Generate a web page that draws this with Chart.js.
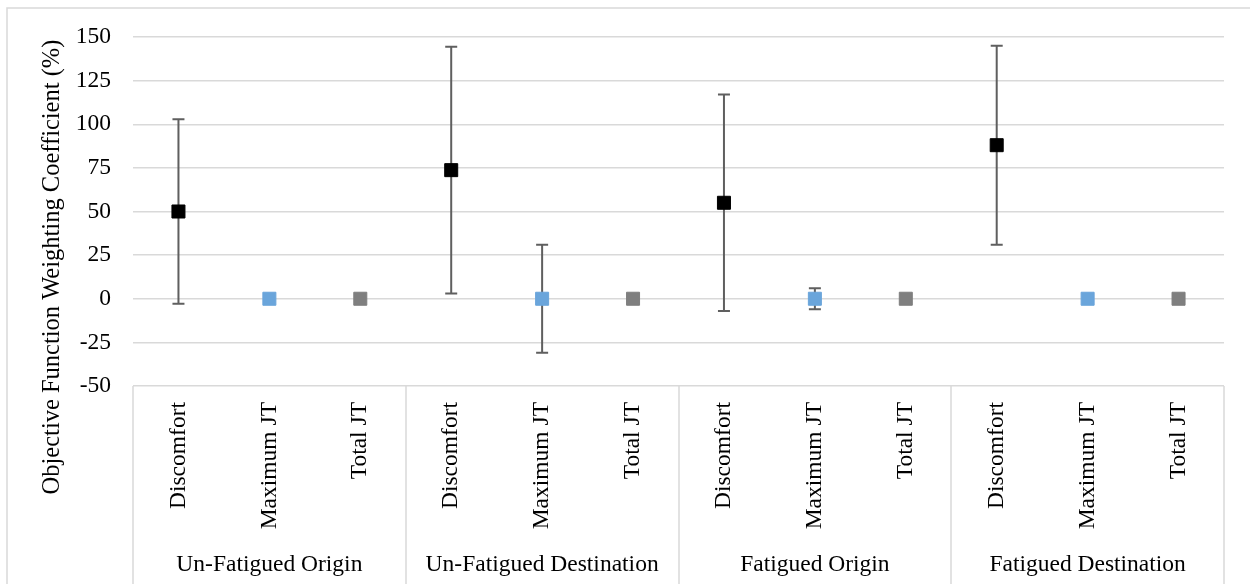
<!DOCTYPE html>
<html>
<head>
<meta charset="utf-8">
<script src="https://cdn.jsdelivr.net/npm/chart.js@4"></script>
<style>
html,body{margin:0;padding:0;background:#fff;}
#wrap{width:1250px;height:584px;position:relative;}
</style>
</head>
<body>
<div id="wrap"><canvas id="c" width="1250" height="584"></canvas></div>
<script>
// data
const groups = ["Un-Fatigued Origin","Un-Fatigued Destination","Fatigued Origin","Fatigued Destination"];
const measures = ["Discomfort","Maximum JT","Total JT"];

const discomfortMean = [50, 73.7, 55, 88];
const discomfortErr  = [52.8, 70.7, 62, 57];
const maxJtMean  = [0, 0, 0, 0];
const maxJtErr   = [0, 31, 6, 0];
const totalJtMean = [0, 0, 0, 0];
const totalJtErr  = [0, 0, 0, 0];

const yMin = -50, yMax = 150, yStep = 25;
const yTitle = "Objective Function Weighting Coefficient (%)";

const FONT = "'Liberation Serif','Times New Roman',serif";
Chart.defaults.font.family = FONT;
Chart.defaults.color = "#000";

// 12 category slots, 3 per group
const labels = groups.flatMap(() => measures);

function place(vals, slot){
    let out = labels.map(() => null);
    vals.forEach((v,g) => { out[g*3+slot] = v; });
    return out;
}

const series = [
    {name:"Discomfort", mean:discomfortMean, err:discomfortErr, color:"#000000", slot:0},
    {name:"Maximum JT", mean:maxJtMean, err:maxJtErr, color:"#6aa5db", slot:1},
    {name:"Total JT", mean:totalJtMean, err:totalJtErr, color:"#7f7f7f", slot:2}
];

const errorBars = {
    id:"errorBars",
    beforeDatasetsDraw(chart){
        const ctx = chart.ctx, y = chart.scales.y;
        ctx.save();
        ctx.strokeStyle = "#5f5f5f";
        ctx.lineWidth = 2;
        series.forEach((s,di) => {
            const meta = chart.getDatasetMeta(di);
            s.mean.forEach((m,g) => {
                const e = s.err[g];
                if(!e) return;
                const pt = meta.data[g*3+s.slot];
                const x = pt.x;
                const top = y.getPixelForValue(m+e), bot = y.getPixelForValue(m-e);
                ctx.beginPath();
                ctx.moveTo(x,top); ctx.lineTo(x,bot);
                ctx.moveTo(x-6,top); ctx.lineTo(x+6,top);
                ctx.moveTo(x-6,bot); ctx.lineTo(x+6,bot);
                ctx.stroke();
            });
        });
        ctx.restore();
    }
};

const decorations = {
    id:"decorations",
    afterDraw(chart){
        const ctx = chart.ctx, a = chart.chartArea, x = chart.scales.x;
        ctx.save();
        // outer chart border (right/bottom fall outside the picture)
        ctx.strokeStyle = "#d9d9d9";
        ctx.lineWidth = 1.5;
        ctx.beginPath();
        ctx.moveTo(7, chart.height); ctx.lineTo(7, 8); ctx.lineTo(chart.width, 8);
        ctx.stroke();
        // group separators in the category box
        ctx.beginPath();
        for(let g=0; g<=groups.length; g++){
            const px = Math.round(x.getPixelForValue(g*3-0.5));
            ctx.moveTo(px, a.bottom); ctx.lineTo(px, chart.height);
        }
        ctx.stroke();
        // group labels
        ctx.fillStyle = "#000";
        ctx.font = "23.5px " + FONT;
        ctx.textAlign = "center";
        ctx.textBaseline = "alphabetic";
        groups.forEach((name,g) => {
            const cx = (x.getPixelForValue(g*3-0.5) + x.getPixelForValue(g*3+2.5))/2;
            ctx.fillText(name, cx, 571);
        });
        // y axis title
        ctx.font = "24.5px " + FONT;
        ctx.translate(59, 267);
        ctx.rotate(-Math.PI/2);
        ctx.fillText(yTitle, 0, 0);
        ctx.restore();
    }
};

new Chart(document.getElementById("c"), {
    type:"line",
    data:{
        labels:labels,
        datasets: series.map(s => ({
            label:s.name,
            data:place(s.mean, s.slot),
            showLine:false,
            pointStyle:"rect",
            pointRadius:9.2,
            pointBorderWidth:1,
            backgroundColor:s.color,
            borderColor:s.color
        }))
    },
    options:{
        responsive:false,
        animation:false,
        layout:{padding:{left:7, top:37, right:26, bottom:0}},
        plugins:{legend:{display:false}, tooltip:{enabled:false}},
        scales:{
            x:{
                offset:true,
                grid:{display:false},
                border:{display:false},
                ticks:{autoSkip:false, minRotation:90, maxRotation:90, padding:8, font:{size:23.5}},
                afterFit(s){ s.height = 198; }
            },
            y:{
                min:yMin, max:yMax,
                ticks:{stepSize:yStep, padding:22, font:{size:23.5}},
                grid:{color:"#d9d9d9", lineWidth:1.5, drawTicks:false},
                border:{display:false},
                afterFit(s){ s.width = 126; }
            }
        }
    },
    plugins:[errorBars, decorations]
});
</script>
</body>
</html>
